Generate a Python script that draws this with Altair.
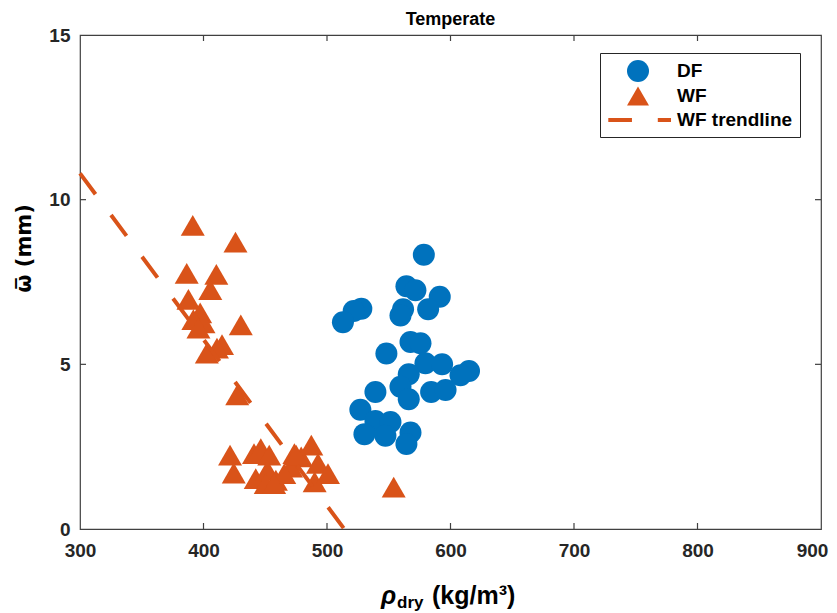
import altair as alt
import pandas as pd

# ---- data ----
df_x = [578.4, 564.3, 571.6, 591.3, 527.8, 521.6, 512.9, 561.6, 559.5, 581.9,
        567.6, 575.7, 548.1, 579.7, 593.2, 615.0, 608.1, 566.2, 559.5, 539.2,
        584.3, 596.0, 566.2, 527.0, 539.2, 551.4, 530.3, 547.3, 567.6, 564.3]
df_y = [8.33, 7.37, 7.25, 7.05, 6.69, 6.62, 6.28, 6.67, 6.48, 6.67,
        5.68, 5.64, 5.33, 5.03, 5.00, 4.80, 4.67, 4.70, 4.32, 4.16,
        4.16, 4.22, 3.94, 3.62, 3.28, 3.25, 2.88, 2.83, 2.93, 2.58]

wf_x = [391.3, 425.9, 386.4, 410.4, 405.5, 387.8, 397.3, 391.8, 400.0, 395.9,
        430.2, 415.0, 410.9, 402.7, 427.3, 421.5, 424.5, 440.9, 446.4, 453.2,
        442.3, 451.8, 458.6, 450.4, 473.6, 479.1, 487.3, 470.9, 492.7, 490.0,
        500.8, 465.4, 475.0, 457.2, 554.0]
wf_y = [9.22, 8.71, 7.76, 7.73, 7.27, 6.97, 6.56, 6.36, 6.26, 6.10,
        6.20, 5.60, 5.49, 5.34, 4.07, 2.24, 1.70, 2.29, 2.44, 2.24,
        1.53, 1.78, 1.48, 1.38, 2.29, 2.19, 2.55, 1.88, 1.99, 1.43,
        1.68, 1.68, 2.24, 1.38, 1.27]

trend_x = [300, 514]
trend_y = [10.8, 0.0]

series_names = ["DF", "WF", "WF trendline"]
x_ticks = [400, 500, 600, 700, 800]
y_ticks = [5, 10]
x_labels = [300, 400, 500, 600, 700, 800, 900]
y_labels = [0, 5, 10, 15]

BLUE = "#0072BD"
ORANGE = "#D95319"
AXC = "#404040"
FONT = "Liberation Sans"
W, H = 741, 494

df_pts = pd.DataFrame({"x": df_x, "y": df_y, "series": "DF"})
wf_pts = pd.DataFrame({"x": wf_x, "y": wf_y, "series": "WF"})
trend = pd.DataFrame({"x": trend_x, "y": trend_y})
xt = pd.DataFrame({"x": x_ticks})
yt = pd.DataFrame({"y": y_ticks})

xscale = alt.Scale(domain=[300, 900], nice=False, zero=False)
yscale = alt.Scale(domain=[0, 15], nice=False, zero=False)

dash_path = ("M-2.7,-0.18L-0.55,-0.18L-0.55,0.18L-2.7,0.18Z "
             "M1.8,-0.18L3.0,-0.18L3.0,0.18L1.8,0.18Z")

legend = alt.Legend(title=None, orient="none", legendX=520, legendY=18,
                    padding=7, symbolOffset=20, labelOffset=28, rowPadding=3,
                    symbolSize=484, symbolStrokeWidth=0,
                    labelFontSize=19, labelFontWeight="bold", labelFont=FONT,
                    labelColor="black", strokeColor="#262626", fillColor="white",
                    labelLimit=0)

color = alt.Color("series:N", scale=alt.Scale(domain=series_names,
                                              range=[BLUE, ORANGE, ORANGE]),
                  legend=legend)
shape = alt.Shape("series:N", scale=alt.Scale(domain=series_names,
                                              range=["circle", "triangle-up", dash_path]),
                  legend=legend)

xaxis = alt.Axis(values=x_labels, ticks=False, domain=False, grid=False,
                 labelFontSize=19, labelFont=FONT, labelFontWeight="bold",
                 labelColor="#262626", labelPadding=12, labelFlush=False, title=None,
                 labelOffset={"condition": {"test": "datum.value >= 900", "value": -9},
                              "value": 0})
yaxis = alt.Axis(values=y_labels, ticks=False, domain=False, grid=False,
                 labelFontSize=19, labelFont=FONT, labelFontWeight="bold",
                 labelColor="#262626", labelPadding=10, labelFlush=False,
                 title="ω\u0305  (mm)", titleFontSize=21, titleFont="DejaVu Sans",
                 titleFontWeight="bold", titleColor="black",
                 titleX=-46, titleY=213, titleBaseline="bottom", titleAngle=270)

X = alt.X("x:Q", scale=xscale, axis=xaxis)
Y = alt.Y("y:Q", scale=yscale, axis=yaxis)

df_layer = alt.Chart(df_pts).mark_point(filled=True, opacity=1, size=484, strokeWidth=0).encode(
    x=X, y=Y, color=color, shape=shape)

wf_layer = alt.Chart(wf_pts).mark_point(filled=True, opacity=1, size=576, strokeWidth=0).encode(
    x=X, y=Y, color=color, shape=shape)

trend_layer = alt.Chart(trend).mark_line(color=ORANGE, strokeWidth=4,
                                         strokeDash=[26, 26]).encode(x=X, y=Y)

tk = dict(color=AXC, strokeWidth=1.2)
bottom_t = alt.Chart(xt).mark_rule(**tk).encode(
    x=X, y=alt.value(H), y2=alt.value(H - 6))
top_t = alt.Chart(xt).mark_rule(**tk).encode(
    x=X, y=alt.value(0), y2=alt.value(6))
left_t = alt.Chart(yt).mark_rule(**tk).encode(
    y=Y, x=alt.value(0), x2=alt.value(6))
right_t = alt.Chart(yt).mark_rule(**tk).encode(
    y=Y, x=alt.value(W), x2=alt.value(W - 6))


def label(s, x, y, size, style="normal"):
    return alt.Chart(alt.InlineData(values=[{"k": 0}])).mark_text(
        text=s, fontSize=size, fontWeight="bold", fontStyle=style, font=FONT,
        align="left", baseline="alphabetic", color="black").encode(
        x=alt.value(x), y=alt.value(y))


t_rho = label("ρ", 301, 569, 25, "italic")
t_dry = label("dry", 317, 573, 17)
t_unit = label("(kg/m³)", 352, 569, 25)

chart = alt.layer(df_layer, wf_layer, trend_layer, bottom_t, top_t, left_t, right_t,
                  t_rho, t_dry, t_unit).properties(
    width=W, height=H,
    title=alt.TitleParams("Temperate", fontSize=18, fontWeight="bold", font=FONT,
                          color="black", offset=-3, anchor="middle"),
    padding={"left": 72, "top": 27, "right": 8, "bottom": 82},
    autosize="none",
).configure_view(stroke=AXC, strokeWidth=1.2)

chart.save("out.html", embed_options={"renderer": "svg", "actions": False})
